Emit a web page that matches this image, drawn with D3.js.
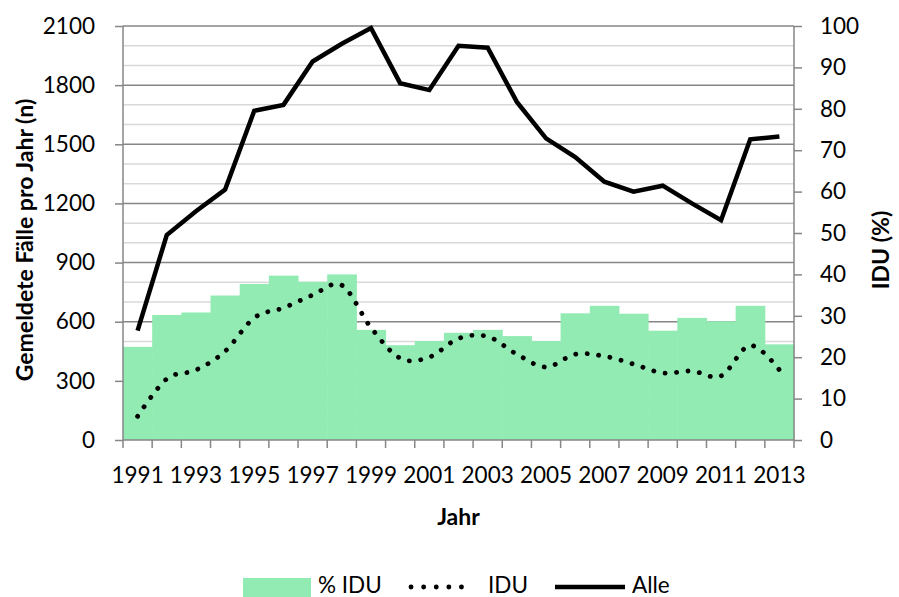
<!DOCTYPE html>
<html>
<head>
<meta charset="utf-8">
<script src="https://d3js.org/d3.v7.min.js"></script>
<style>
  body { margin: 0; background: #fff; }
  svg text { font-family: Lato, "Liberation Sans", sans-serif; fill: #000; }
  .axis path { display: none; }
  .axis line { stroke: #868686; stroke-width: 1.5; }
  .tick-label { font-size: 22.5px; }
  .title { font-size: 23px; font-weight: bold; }
</style>
</head>
<body>
<div id="chart"></div>
<script>
// data
const years = d3.range(1991, 2014);
const alle = [555, 1040, 1160, 1270, 1670, 1700, 1920, 2010, 2090, 1810, 1775, 2000,
  1990, 1715, 1530, 1435, 1310, 1260, 1290, 1200, 1115, 1525, 1540];
const idu = [120, 310, 355, 450, 620, 670, 735, 785, 570, 415, 420, 515,
  525, 435, 370, 435, 425, 385, 340, 350, 325, 480, 355];
const pctIdu = [22.5, 30.2, 30.8, 34.9, 37.7, 39.7, 38.2, 40.0, 26.6, 22.9, 23.9, 25.9,
  26.6, 25.1, 23.9, 30.6, 32.4, 30.5, 26.4, 29.5, 28.7, 32.4, 23.1];
const leftTicks = d3.range(0, 2101, 300);
const rightTicks = d3.range(0, 101, 10);
const xLabels = years.filter(y => y % 2 == 1);

const W = 899, H = 597;
const margin = { top: 26, right: 105, bottom: 157, left: 123 };
const width = W - margin.left - margin.right;
const height = H - margin.top - margin.bottom;
const green = "#92EBB2";

const svg = d3.select("#chart").append("svg")
  .attr("width", W)
  .attr("height", H);
const g = svg.append("g")
  .attr("transform", "translate(" + margin.left + "," + margin.top + ")");

const x = d3.scaleBand().domain(years).range([0, width]).padding(0);
const yL = d3.scaleLinear().domain([0, 2100]).range([height, 0]);
const yR = d3.scaleLinear().domain([0, 100]).range([height, 0]);

// gridlines: light every 100, darker every 300
g.append("g")
  .selectAll("line")
  .data(d3.range(100, 2101, 100).filter(v => v % 300 != 0))
  .join("line")
  .attr("x1", 0).attr("x2", width)
  .attr("y1", d => yL(d)).attr("y2", d => yL(d))
  .attr("stroke", "#d9d9d9").attr("stroke-width", 1.5);
g.append("g")
  .selectAll("line")
  .data(leftTicks.filter(v => v > 0))
  .join("line")
  .attr("x1", 0).attr("x2", width)
  .attr("y1", d => yL(d)).attr("y2", d => yL(d))
  .attr("stroke", "#868686").attr("stroke-width", 1.5);

// bars (% IDU, right axis)
g.append("g")
  .selectAll("rect")
  .data(years)
  .join("rect")
  .attr("x", d => x(d))
  .attr("width", x.bandwidth() + 0.5)
  .attr("y", (d, i) => yR(pctIdu[i]))
  .attr("height", (d, i) => height - yR(pctIdu[i]))
  .attr("fill", green);

// axes
const leftAxis = g.append("g").attr("class", "axis")
  .call(d3.axisLeft(yL).tickValues(leftTicks).tickFormat(d3.format("d"))
    .tickSize(8).tickPadding(20));
leftAxis.selectAll("text").attr("class", "tick-label");

const rightAxis = g.append("g").attr("class", "axis")
  .attr("transform", "translate(" + width + ",0)")
  .call(d3.axisRight(yR).tickValues(rightTicks).tickSize(8).tickPadding(18));
rightAxis.selectAll("text").attr("class", "tick-label");

// axis lines
g.append("line")
  .attr("x1", 0).attr("x2", 0).attr("y1", 0).attr("y2", height)
  .attr("stroke", "#868686").attr("stroke-width", 1.5);
g.append("line")
  .attr("x1", width).attr("x2", width).attr("y1", 0).attr("y2", height)
  .attr("stroke", "#868686").attr("stroke-width", 1.5);
g.append("line")
  .attr("x1", 0).attr("x2", width).attr("y1", height).attr("y2", height)
  .attr("stroke", "#868686").attr("stroke-width", 1.5);

// x ticks at band boundaries
const bounds = years.map(d => x(d)).concat([x.range()[1]]);
g.append("g")
  .selectAll("line")
  .data(bounds)
  .join("line")
  .attr("x1", d => d).attr("x2", d => d)
  .attr("y1", height).attr("y2", height + 8)
  .attr("stroke", "#868686").attr("stroke-width", 1.5);

g.append("g")
  .selectAll("text")
  .data(xLabels)
  .join("text")
  .attr("class", "tick-label")
  .attr("x", d => x(d) + x.bandwidth() / 2)
  .attr("y", height + 43)
  .attr("text-anchor", "middle")
  .text(d => d);

// IDU dotted smooth line
const iduLine = d3.line()
  .x((d, i) => x(years[i]) + x.bandwidth() / 2)
  .y(d => yL(d))
  .curve(d3.curveCardinal.tension(0));
g.append("path")
  .attr("d", iduLine(idu))
  .attr("fill", "none")
  .attr("stroke", "#000")
  .attr("stroke-width", 4.8)
  .attr("stroke-linecap", "round")
  .attr("stroke-dasharray", "0.1 11.4");

// Alle solid line
const alleLine = d3.line()
  .x((d, i) => x(years[i]) + x.bandwidth() / 2)
  .y(d => yL(d));
g.append("path")
  .attr("d", alleLine(alle))
  .attr("fill", "none")
  .attr("stroke", "#000")
  .attr("stroke-width", 4.5);

// titles
svg.append("text")
  .attr("class", "title")
  .attr("transform", "translate(33," + (margin.top + height / 2 + 7) + ") rotate(-90)")
  .attr("text-anchor", "middle")
  .text("Gemeldete Fälle pro Jahr (n)");
svg.append("text")
  .attr("class", "title")
  .attr("transform", "translate(889," + (margin.top + height / 2 + 17) + ") rotate(-90)")
  .attr("text-anchor", "middle")
  .text("IDU (%)");
svg.append("text")
  .attr("class", "title")
  .attr("x", margin.left + width / 2)
  .attr("y", 525)
  .attr("text-anchor", "middle")
  .text("Jahr");

// legend
const legend = svg.append("g");
legend.append("rect")
  .attr("x", 243).attr("y", 578).attr("width", 68).attr("height", 19)
  .attr("fill", green);
legend.append("text").attr("class", "tick-label")
  .attr("x", 318).attr("y", 593).text("% IDU");
legend.append("line")
  .attr("x1", 411).attr("x2", 474).attr("y1", 587).attr("y2", 587)
  .attr("stroke", "#000").attr("stroke-width", 4.8)
  .attr("stroke-linecap", "round").attr("stroke-dasharray", "0.1 12.5");
legend.append("text").attr("class", "tick-label")
  .attr("x", 488).attr("y", 593).text("IDU");
legend.append("line")
  .attr("x1", 555).attr("x2", 625).attr("y1", 587).attr("y2", 587)
  .attr("stroke", "#000").attr("stroke-width", 4.5);
legend.append("text").attr("class", "tick-label")
  .attr("x", 632).attr("y", 593).text("Alle");
</script>
</body>
</html>
